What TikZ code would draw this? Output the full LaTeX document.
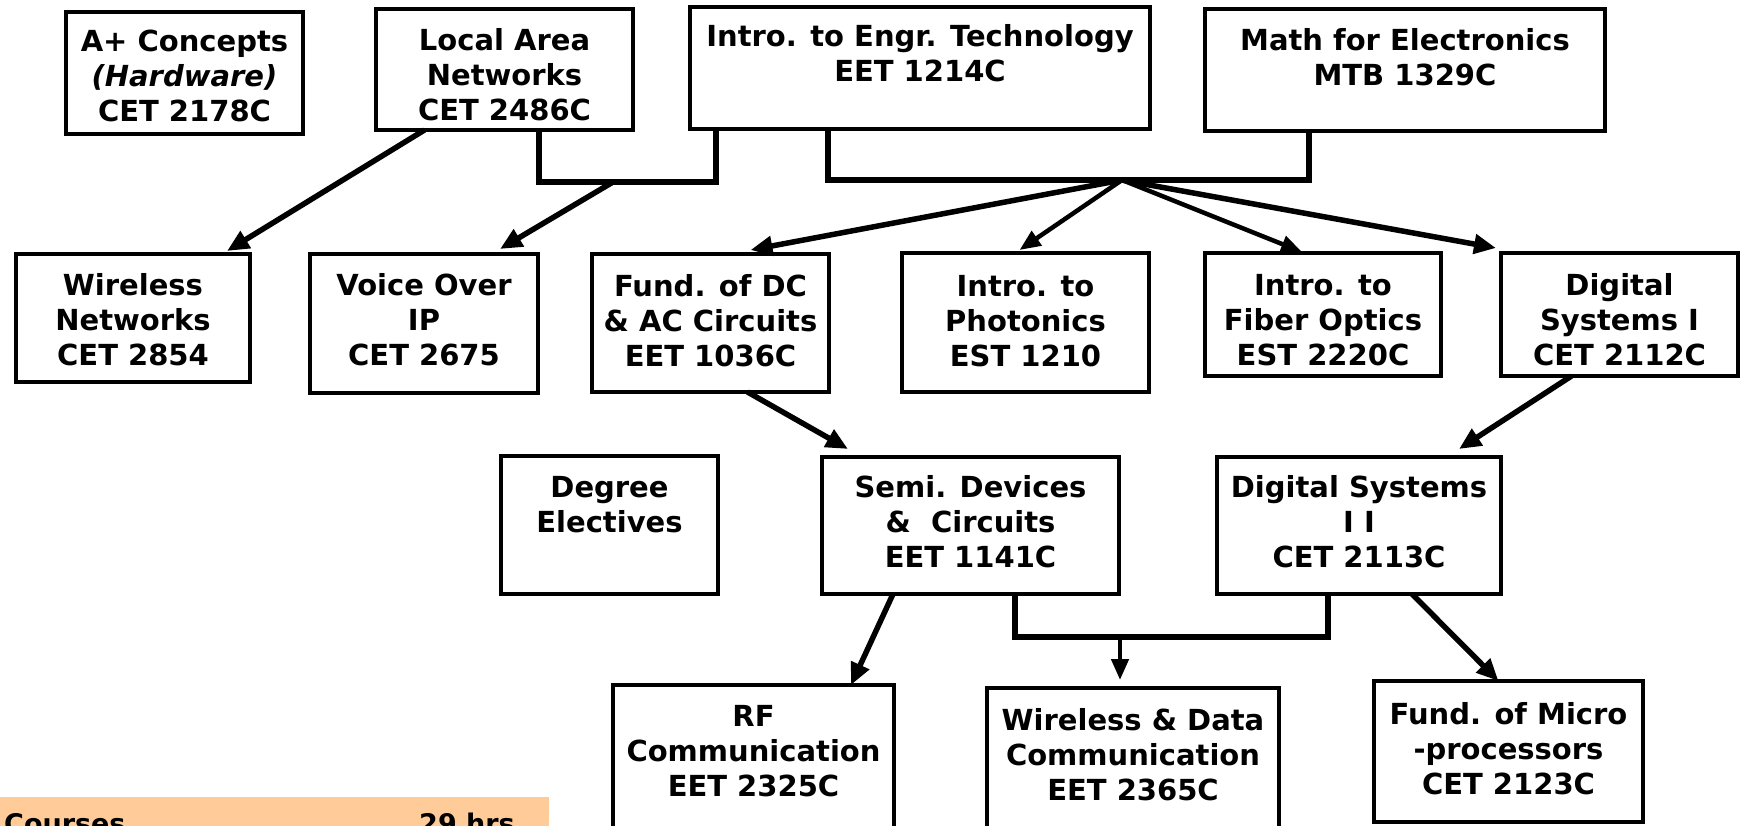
\documentclass[tikz,border=0pt]{standalone}
\usepackage{fontspec}
\setmainfont{DejaVu Sans}
\usetikzlibrary{arrows.meta}
\definecolor{peach}{RGB}{255,204,153}
\tikzset{
  box/.style={draw, line width=3.2pt, rectangle, inner sep=0pt, outer sep=0pt},
  txt/.style={align=center, inner sep=0pt, font=\fontsize{29}{35}\selectfont\bfseries},
  arr/.style={line width=5.5pt, -{Triangle[length=22pt,width=19pt]}},
  arrthin/.style={line width=4.5pt, -{Triangle[length=21pt,width=17pt]}},
  bracket/.style={line width=5.5pt, line join=miter},
  foot/.style={inner sep=0pt, font=\fontsize{27}{32}\selectfont\bfseries}
}
\begin{document}
\begin{tikzpicture}[x=1pt,y=-1pt]
\useasboundingbox (0,0) rectangle (1742,825);
\clip (0,0) rectangle (1742,825);
\fill[white] (0,0) rectangle (1742,825);

% footer band
\fill[peach] (0,797) rectangle (549,860);
\node[foot, anchor=base west] (courses) at (4,833) {Courses};
\node[foot, anchor=base east] (hrs) at (515,833) {29 hrs};

% row 1
\node[box, minimum width=237pt, minimum height=122pt] (aplus) at (184.5,73) {};
\node[txt] (aplus-t) at (184.5,75.5) {A+ Concepts\\\textit{(Hardware)}\\CET 2178C};
\node[box, minimum width=257pt, minimum height=121pt] (lan) at (504.5,69.5) {};
\node[txt] (lan-t) at (504.5,74.5) {Local Area\\Networks\\CET 2486C};
\node[box, minimum width=460pt, minimum height=122pt] (intro) at (920,68) {};
\node[txt] (intro-t) at (920,53.5) {Intro. to Engr. Technology\\EET 1214C};
\node[box, minimum width=400pt, minimum height=122pt] (math) at (1405,70) {};
\node[txt] (math-t) at (1405,57) {Math for Electronics\\MTB 1329C};

% row 2
\node[box, minimum width=234pt, minimum height=128pt] (wln) at (133,318) {};
\node[txt] (wln-t) at (133,320) {Wireless\\Networks\\CET 2854};
\node[box, minimum width=228pt, minimum height=139pt] (voip) at (424,323.5) {};
\node[txt] (voip-t) at (424,320) {Voice Over\\IP\\CET 2675};
\node[box, minimum width=237pt, minimum height=138pt] (fdc) at (710.5,323) {};
\node[txt] (fdc-t) at (710.5,321) {Fund. of DC\\\& AC Circuits\\EET 1036C};
\node[box, minimum width=247pt, minimum height=139pt] (phot) at (1025.5,322.5) {};
\node[txt] (phot-t) at (1025.5,321) {Intro. to\\Photonics\\EST 1210};
\node[box, minimum width=236pt, minimum height=123pt] (fiber) at (1323,314.5) {};
\node[txt] (fiber-t) at (1323,320) {Intro. to\\Fiber Optics\\EST 2220C};
\node[box, minimum width=237pt, minimum height=123pt] (ds1) at (1619.5,314.5) {};
\node[txt] (ds1-t) at (1619.5,320) {Digital\\Systems I\\CET 2112C};

% row 3
\node[box, minimum width=217pt, minimum height=138pt] (degree) at (609.5,525) {};
\node[txt] (degree-t) at (609.5,504.5) {Degree\\Electives};
\node[box, minimum width=297pt, minimum height=137pt] (semi) at (970.5,525.5) {};
\node[txt] (semi-t) at (970.5,522) {Semi. Devices\\\&~~Circuits\\EET 1141C};
\node[box, minimum width=284pt, minimum height=137pt] (ds2) at (1359,525.5) {};
\node[txt] (ds2-t) at (1359,522) {Digital Systems\\I I\\CET 2113C};

% row 4
\node[box, minimum width=281pt, minimum height=165pt] (rf) at (753.5,767.5) {};
\node[txt] (rf-t) at (753.5,751) {RF\\Communication\\EET 2325C};
\node[box, minimum width=292pt, minimum height=162pt] (wd) at (1133,769) {};
\node[txt] (wd-t) at (1133,755) {Wireless \& Data\\Communication\\EET 2365C};
\node[box, minimum width=269pt, minimum height=141pt] (micro) at (1508.5,751.5) {};
\node[txt] (micro-t) at (1508.5,749) {Fund. of Micro\\-processors\\CET 2123C};

% junction coordinates
\coordinate (b1l) at (539,182);
\coordinate (b1r) at (716,182);
\coordinate (b1m) at (613,182);
\coordinate (b2l) at (828,180);
\coordinate (b2r) at (1309,180);
\coordinate (hub) at (1122,180);
\coordinate (b3l) at (1015,637);
\coordinate (b3r) at (1328,637);
\coordinate (b3m) at (1120,637);

% brackets
\draw[bracket] (lan.south -| b1l) -- (b1l) -- (b1r) -- (intro.south -| b1r);
\draw[bracket] (intro.south -| b2l) -- (b2l) -- (b2r) -- (math.south -| b2r);
\draw[bracket] (semi.south -| b3l) -- (b3l) -- (b3r) -- (ds2.south -| b3r);

% arrows
\draw[arr] ([xshift=-80pt]lan.south) -- ([xshift=94pt,yshift=3pt]wln.north);
\draw[arr] (b1m) -- ([xshift=76pt,yshift=5pt]voip.north);
\draw[arr] (hub) -- ([xshift=40pt,yshift=4pt]fdc.north);
\draw[arrthin] (hub) -- ([xshift=-6pt,yshift=3pt]phot.north);
\draw[arrthin] (hub) -- ([xshift=-21pt,yshift=1pt]fiber.north);
\draw[arr] (hub) -- ([xshift=-5pt,yshift=5pt]ds1.north west);
\draw[arr] ([xshift=37pt]fdc.south) -- ([xshift=26pt,yshift=8pt]semi.north west);
\draw[arr] ([xshift=-48pt]ds1.south) -- ([xshift=100pt,yshift=8pt]ds2.north);
\draw[arr] ([xshift=71pt]semi.south west) -- ([xshift=-43pt]rf.north east);
\draw[arrthin] (b3m) -- ([yshift=8pt]wd.north -| b3m);
\draw[arr] ([xshift=53pt]ds2.south) -- ([xshift=-10pt]micro.north);
\end{tikzpicture}
\end{document}
